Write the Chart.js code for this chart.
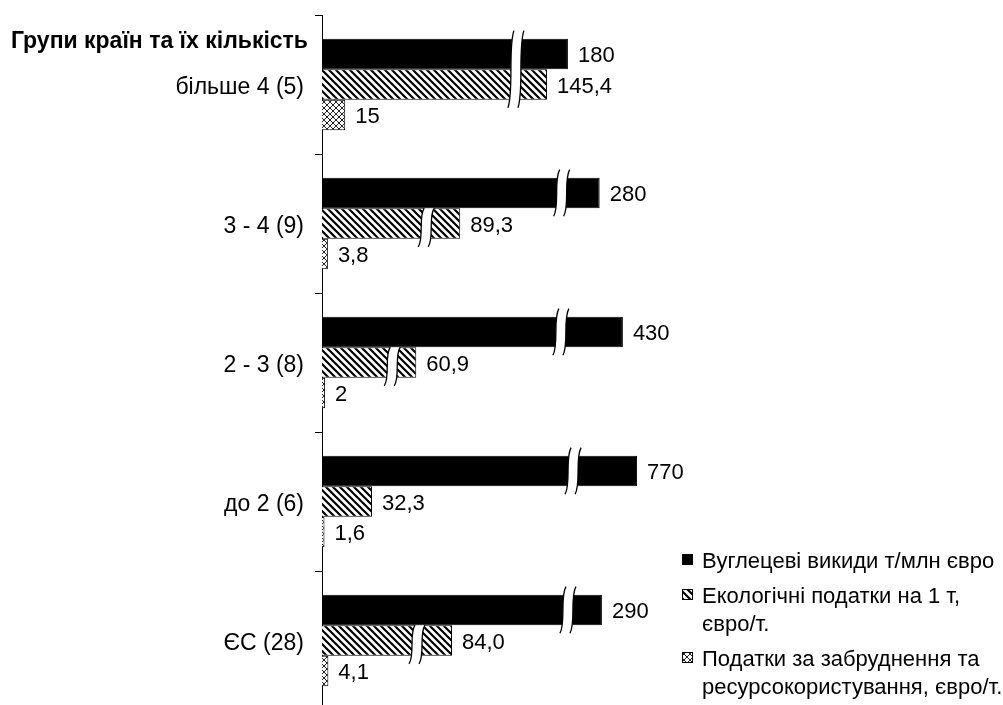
<!DOCTYPE html>
<html>
<head>
<meta charset="utf-8">
<script src="https://cdn.jsdelivr.net/npm/chart.js@4/dist/chart.umd.min.js"></script>
<style>
    html, body { margin: 0; padding: 0; background: #fff; overflow: hidden; }
    #wrap { width: 1003px; height: 710px; }
</style>
</head>
<body>
<div id="wrap"><canvas id="myChart"></canvas></div>
<script>
const grupy = ["більше 4 (5)", "3 - 4 (9)", "2 - 3 (8)", "до 2 (6)", "ЄС (28)"];
const vykydy = [180, 280, 430, 770, 290];
const ekoPodatky = [145.4, 89.3, 60.9, 32.3, 84.0];
const zabrudnennia = [15, 3.8, 2, 1.6, 4.1];
const nazvySerii = [
    ["Вуглецеві викиди т/млн євро"],
    ["Екологічні податки на 1 т,", "євро/т."],
    ["Податки за забруднення та", "ресурсокористування, євро/т."]
];
const zagolovok = "Групи країн та їх кількість";

const shryft = "Arial, 'Liberation Sans', sans-serif";

// вісь з розривом: до 150 лінійно, далі стиснуто
const porig = 150;
function stysk(v) {
    return v <= porig ? v : porig + 55 * (1 - Math.exp(-(v - porig) / 170));
}
function rozstysk(u) {
    return u <= porig ? u : porig - 170 * Math.log(1 - (u - porig) / 55);
}

class RozryvScale extends Chart.LinearScale {
    static id = "rozryv";
    static defaults = Chart.LinearScale.defaults;
    getPixelForValue(value) {
        if (value === null || value === undefined) return NaN;
        return super.getPixelForValue(stysk(value));
    }
    getValueForPixel(pixel) {
        return rozstysk(super.getValueForPixel(pixel));
    }
}
Chart.register(RozryvScale);

function shtrykhovka() {
    const n = 7;
    const c = document.createElement("canvas");
    c.width = n; c.height = n;
    const g = c.getContext("2d");
    g.fillStyle = "#fff";
    g.fillRect(0, 0, n, n);
    g.strokeStyle = "#000";
    g.lineWidth = 2.2;
    g.beginPath();
    g.moveTo(-2, -2); g.lineTo(n + 2, n + 2);
    g.moveTo(-2, n - 2); g.lineTo(2, n + 2);
    g.moveTo(n - 2, -2); g.lineTo(n + 2, 2);
    g.stroke();
    return g.createPattern(c, "repeat");
}

function sitka() {
    const n = 6;
    const c = document.createElement("canvas");
    c.width = n; c.height = n;
    const g = c.getContext("2d");
    g.fillStyle = "#fff";
    g.fillRect(0, 0, n, n);
    g.strokeStyle = "#222";
    g.lineWidth = 1;
    g.beginPath();
    g.moveTo(0, 0); g.lineTo(n, n);
    g.moveTo(n, 0); g.lineTo(0, n);
    g.stroke();
    return g.createPattern(c, "repeat");
}

const zalyvky = ["#000", shtrykhovka(), sitka()];

// де малювати розриви: категорія, стовпці, відступ від кінця першого стовпця
const rozryvy = [
    { i: 0, ds: [0, 1], dx: 52 },
    { i: 1, ds: [0], dx: 38 },
    { i: 1, ds: [1], dx: 34 },
    { i: 2, ds: [0], dx: 62 },
    { i: 2, ds: [1], dx: 24 },
    { i: 3, ds: [0], dx: 64 },
    { i: 4, ds: [0], dx: 34 },
    { i: 4, ds: [1], dx: 35 }
];

function kryva(ctx, x, top, bottom) {
    const h = bottom - top, s = 3;
    ctx.moveTo(x + s, top);
    ctx.bezierCurveTo(x - 3, top + h * 0.22, x + 3, bottom - h * 0.22, x - s, bottom);
}

function maliuvatyRozryv(ctx, x, top, bottom) {
    const h = bottom - top, w = 10, s = 3;
    const l = x - w / 2, r = x + w / 2;
    ctx.save();
    ctx.beginPath();
    ctx.moveTo(l + s, top);
    ctx.bezierCurveTo(l - 3, top + h * 0.22, l + 3, bottom - h * 0.22, l - s, bottom);
    ctx.lineTo(r - s, bottom);
    ctx.bezierCurveTo(r + 3, bottom - h * 0.22, r - 3, top + h * 0.22, r + s, top);
    ctx.closePath();
    ctx.fillStyle = "#fff";
    ctx.fill();
    ctx.beginPath();
    kryva(ctx, l, top, bottom);
    kryva(ctx, r, top, bottom);
    ctx.strokeStyle = "#000";
    ctx.lineWidth = 1.3;
    ctx.stroke();
    ctx.restore();
}

const rozryvPlugin = {
    id: "rozryvPlugin",
    afterDatasetsDraw(chart) {
        const ctx = chart.ctx;
        rozryvy.forEach(r => {
            const bary = r.ds.map(d => chart.getDatasetMeta(d).data[r.i]);
            const pershyi = bary[0], ostannii = bary[bary.length - 1];
            const x = pershyi.x - r.dx;
            const top = pershyi.y - pershyi.height / 2 - (r.ds[0] === 0 ? 8 : 0);
            const bottom = ostannii.y + ostannii.height / 2 + 8;
            maliuvatyRozryv(ctx, x, top, bottom);
        });
    }
};

const pidpysPlugin = {
    id: "pidpysPlugin",
    afterDatasetsDraw(chart) {
        const ctx = chart.ctx;
        ctx.save();
        ctx.font = "22px " + shryft;
        ctx.fillStyle = "#000";
        ctx.textAlign = "left";
        ctx.textBaseline = "middle";
        chart.data.datasets.forEach((ds, d) => {
            chart.getDatasetMeta(d).data.forEach((bar, i) => {
                const v = ds.data[i];
                const t = d === 1 ? v.toFixed(1).replace(".", ",") : String(v).replace(".", ",");
                ctx.fillText(t, bar.x + 10, bar.y + 2);
            });
        });
        // заголовок осі
        ctx.font = "bold 23px " + shryft;
        ctx.textAlign = "right";
        ctx.fillText(zagolovok, 308, 42);
        ctx.restore();
    }
};

const legendaPlugin = {
    id: "legendaPlugin",
    afterDraw(chart) {
        const ctx = chart.ctx;
        const ryadky = [[562], [597, 625], [660, 688]];
        ctx.save();
        ctx.font = "22px " + shryft;
        ctx.textBaseline = "middle";
        ctx.textAlign = "left";
        nazvySerii.forEach((nazva, k) => {
            const y0 = ryadky[k][0];
            ctx.fillStyle = zalyvky[k];
            ctx.fillRect(682, y0 - 8, 11, 11);
            ctx.strokeStyle = "#000";
            ctx.lineWidth = 1;
            ctx.strokeRect(682.5, y0 - 7.5, 10, 10);
            ctx.fillStyle = "#000";
            nazva.forEach((t, j) => {
                ctx.fillText(t, 702, ryadky[k][j]);
            });
        });
        ctx.restore();
    }
};

const ctx = document.getElementById("myChart").getContext("2d");
const myChart = new Chart(ctx, {
    type: "bar",
    data: {
        labels: grupy,
        datasets: [
            { label: nazvySerii[0].join(" "), data: vykydy, backgroundColor: zalyvky[0] },
            { label: nazvySerii[1].join(" "), data: ekoPodatky, backgroundColor: zalyvky[1] },
            { label: nazvySerii[2].join(" "), data: zabrudnennia, backgroundColor: zalyvky[2] }
        ]
    },
    options: {
        indexAxis: "y",
        responsive: true,
        maintainAspectRatio: false,
        animation: false,
        layout: { padding: { top: 15, right: 0, bottom: 0, left: 0 } },
        datasets: {
            bar: {
                borderColor: "#000",
                borderWidth: 1,
                categoryPercentage: 0.66,
                barPercentage: 1
            }
        },
        plugins: {
            legend: { display: false },
            tooltip: { enabled: false }
        },
        scales: {
            x: {
                type: "rozryv",
                min: 0,
                max: 440,
                display: false
            },
            y: {
                afterFit(scale) {
                    scale.width = 322;
                    scale.paddingTop = 0;
                    scale.paddingBottom = 0;
                },
                grid: {
                    display: true,
                    drawOnChartArea: false,
                    drawTicks: true,
                    tickLength: 7,
                    color: "#000",
                    offset: true
                },
                border: { display: true, color: "#000", width: 1 },
                ticks: {
                    color: "#000",
                    padding: 11,
                    labelOffset: 3,
                    font: { family: shryft, size: 23 }
                }
            }
        }
    },
    plugins: [rozryvPlugin, pidpysPlugin, legendaPlugin]
});
</script>
</body>
</html>
